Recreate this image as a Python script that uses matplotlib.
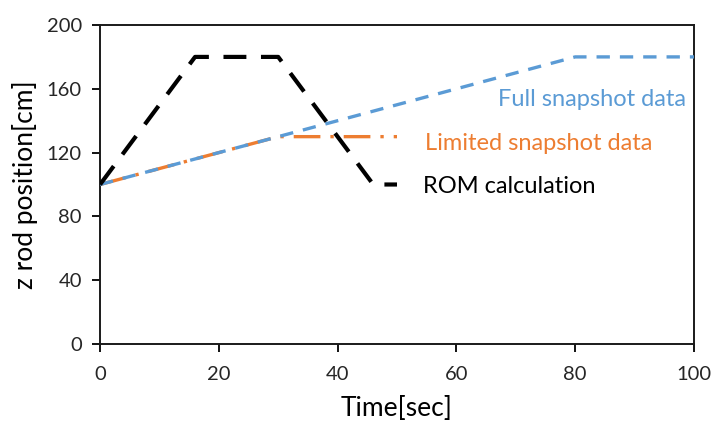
import matplotlib
matplotlib.use("Agg")
import matplotlib.pyplot as plt

# series: time [sec] vs z rod position [cm]
rom_time = [0, 16, 30, 46, 50]
rom_z = [100, 180, 180, 100, 100]

full_time = [0, 30, 80, 100]
full_z = [100, 130, 180, 180]

limited_time = [0, 30, 50]
limited_z = [100, 130, 130]

x_ticks = [0, 20, 40, 60, 80, 100]
y_ticks = [0, 40, 80, 120, 160, 200]

BLUE = "#5B9BD5"
ORANGE = "#ED7D31"
TXT = "#262626"

plt.rcParams['font.family'] = ['Lato', 'DejaVu Sans']

fig = plt.figure(figsize=(7.13, 4.21), dpi=100)
ax = fig.add_axes([0.1403, 0.1829, 0.8330, 0.7577])

ax.plot(limited_time, limited_z, color=ORANGE, lw=2.4,
        dashes=(8, 3, 1, 3), solid_capstyle='butt', zorder=2)
ax.plot(full_time, full_z, color=BLUE, lw=2.4,
        dashes=(4, 3), zorder=3)
ax.plot(rom_time, rom_z, color='black', lw=3.0,
        dashes=(5.5, 3.5), zorder=4)

# end-of-series labels
ax.text(98.6, 153, "Full snapshot data", color=BLUE, fontsize=17,
        ha='right', va='center')
ax.text(54.7, 126, "Limited snapshot data", color=ORANGE, fontsize=17,
        ha='left', va='center')
ax.text(54.4, 99, "ROM calculation", color='black', fontsize=17,
        ha='left', va='center')

ax.set_xlim(0, 100)
ax.set_ylim(0, 200)
ax.set_xticks(x_ticks)
ax.set_yticks(y_ticks)
ax.tick_params(direction='out', length=6, width=1.3, labelsize=14.5,
               colors='black', labelcolor=TXT)
ax.tick_params(axis='x', pad=10)
ax.tick_params(axis='y', pad=7)

for sp in ax.spines.values():
    sp.set_linewidth(1.4)
    sp.set_color('#1a1a1a')

ax.set_xlabel("Time[sec]", fontsize=19, color='black', labelpad=9)
ax.set_ylabel("z rod position[cm]", fontsize=19, color='black', labelpad=6)

fig.savefig("out.png", dpi=100)
